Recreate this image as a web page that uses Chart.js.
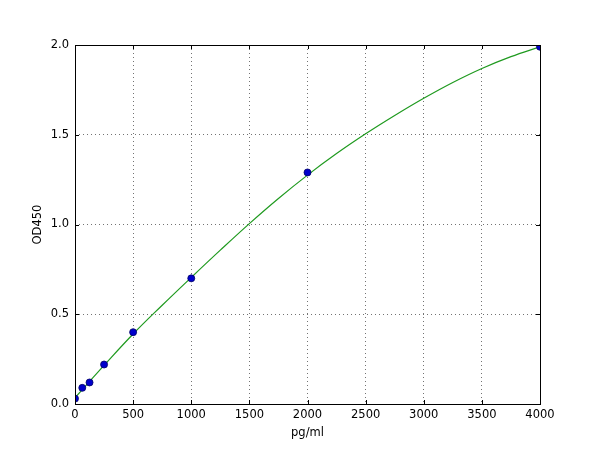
<!DOCTYPE html>
<html>
<head>
<meta charset="utf-8">
<script src="https://cdn.jsdelivr.net/npm/chart.js@4/dist/chart.umd.min.js"></script>
<style>
  html, body { margin: 0; padding: 0; background: #fff; }
  canvas { display: block; }
</style>
</head>
<body>
<canvas id="curve" width="600" height="450"></canvas>
<script>
// standard points (concentration vs OD)
const concentrations = [0, 62.5, 125, 250, 500, 1000, 2000, 4000];
const odValues = [0.03, 0.09, 0.12, 0.22, 0.40, 0.70, 1.29, 1.99];

// fitted curve
const fitX = [0, 250, 500, 750, 1000, 1250, 1500, 1750, 2000, 2250, 2500, 2750, 3000, 3250, 3500, 3750, 4000];
const fitY = [0.035, 0.215, 0.39, 0.55, 0.705, 0.857, 1.005, 1.145, 1.275, 1.395, 1.505, 1.607, 1.703, 1.791, 1.869, 1.935, 1.99];

const xTicks = [0, 500, 1000, 1500, 2000, 2500, 3000, 3500, 4000];
const yTicks = [0, 0.5, 1.0, 1.5, 2.0];

const fontFamily = '"DejaVu Sans", sans-serif';

// frame + inward tick marks, like matplotlib
const framePlugin = {
    id: 'frame',
    afterDraw(chart) {
        const ctx = chart.ctx;
        const a = chart.chartArea;
        const xs = chart.scales.x, ys = chart.scales.y;
        ctx.save();
        ctx.strokeStyle = '#000';
        ctx.lineWidth = 1;
        ctx.beginPath();
        xTicks.forEach(v => {
            const px = Math.round(xs.getPixelForValue(v)) + 0.5;
            ctx.moveTo(px, a.bottom); ctx.lineTo(px, a.bottom - 4);
            ctx.moveTo(px, a.top); ctx.lineTo(px, a.top + 4);
        });
        yTicks.forEach(v => {
            const py = Math.round(ys.getPixelForValue(v)) + 0.5;
            ctx.moveTo(a.left, py); ctx.lineTo(a.left + 4, py);
            ctx.moveTo(a.right, py); ctx.lineTo(a.right - 4, py);
        });
        ctx.stroke();
        ctx.strokeRect(Math.round(a.left) + 0.5, Math.round(a.top) + 0.5,
            Math.round(a.right - a.left), Math.round(a.bottom - a.top));
        ctx.restore();
    }
};

const ctx = document.getElementById('curve').getContext('2d');
new Chart(ctx, {
    type: 'scatter',
    data: {
        datasets: [
            {
                label: 'fit',
                type: 'line',
                data: fitX.map((x, i) => ({ x: x, y: fitY[i] })),
                borderColor: '#1f9a1f',
                borderWidth: 1.2,
                pointRadius: 0,
                tension: 0.4,
                fill: false,
                clip: 0,
                order: 2
            },
            {
                label: 'standards',
                data: concentrations.map((x, i) => ({ x: x, y: odValues[i] })),
                backgroundColor: '#0000cc',
                borderColor: '#000066',
                borderWidth: 0.8,
                pointRadius: 3.5,
                clip: 0,
                order: 1
            }
        ]
    },
    options: {
        responsive: false,
        animation: false,
        layout: { padding: { top: 45, right: 60, bottom: 0, left: 0 } },
        plugins: {
            legend: { display: false },
            tooltip: { enabled: false }
        },
        scales: {
            x: {
                type: 'linear',
                min: 0,
                max: 4000,
                afterFit: s => { s.height = 46; },
                afterBuildTicks: s => { s.ticks = xTicks.map(v => ({ value: v })); },
                ticks: {
                    padding: 4,
                    color: '#000',
                    font: { family: fontFamily, size: 11.5 },
                    maxRotation: 0,
                    callback: v => String(v)
                },
                grid: {
                    color: 'rgba(0,0,0,0.55)',
                    drawTicks: false,
                    lineWidth: 1
                },
                border: { display: false, dash: [1, 3] },
                title: {
                    display: true,
                    text: 'pg/ml',
                    color: '#000',
                    font: { family: fontFamily, size: 11.5 },
                    padding: { top: 0, bottom: 10 }
                }
            },
            y: {
                type: 'linear',
                min: 0,
                max: 2,
                afterFit: s => { s.width = 75; },
                afterBuildTicks: s => { s.ticks = yTicks.map(v => ({ value: v })); },
                ticks: {
                    padding: 6,
                    color: '#000',
                    font: { family: fontFamily, size: 11.5 },
                    callback: v => Number(v).toFixed(1)
                },
                grid: {
                    color: 'rgba(0,0,0,0.55)',
                    drawTicks: false,
                    lineWidth: 1
                },
                border: { display: false, dash: [1, 3] },
                title: {
                    display: true,
                    text: 'OD450',
                    color: '#000',
                    font: { family: fontFamily, size: 11.5 },
                    padding: { top: 31, bottom: 0 }
                }
            }
        }
    },
    plugins: [framePlugin]
});
</script>
</body>
</html>
